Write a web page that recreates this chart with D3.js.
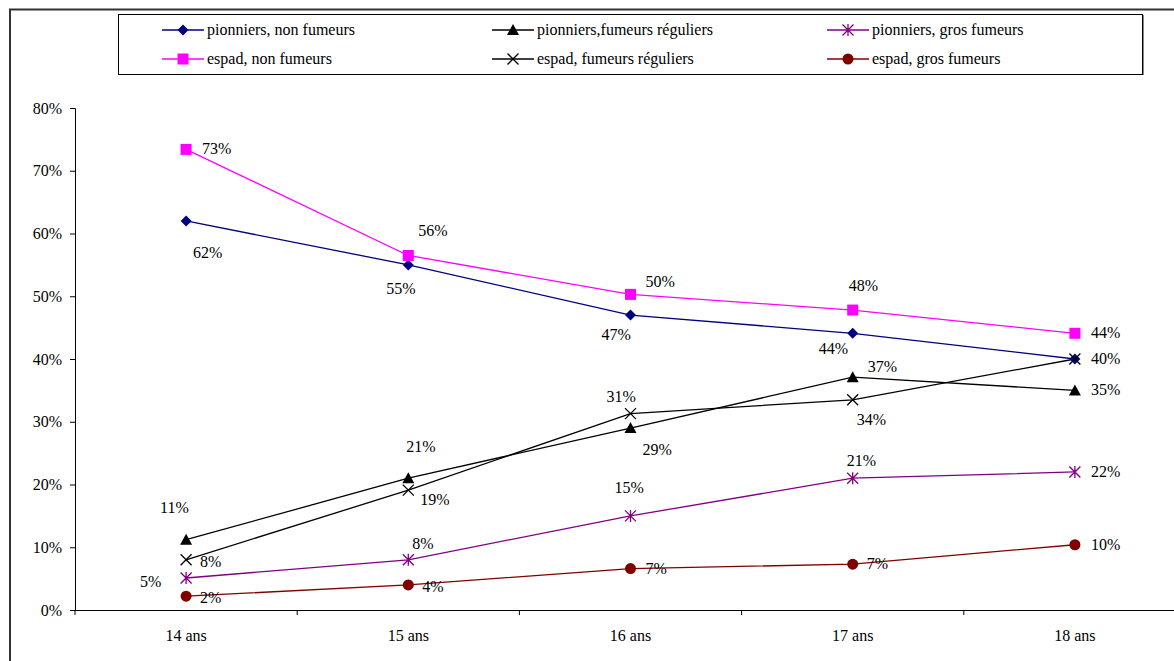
<!DOCTYPE html>
<html>
<head>
<meta charset="utf-8">
<script src="https://cdn.jsdelivr.net/npm/d3@7"></script>
<style>
  html, body { margin: 0; padding: 0; background: #fff; }
  svg { display: block; }
</style>
</head>
<body>
<svg id="chart" width="1174" height="661"></svg>
<script>
// ---- data ----
const categories = ["14 ans", "15 ans", "16 ans", "17 ans", "18 ans"];
const yTicks = [0, 0.1, 0.2, 0.3, 0.4, 0.5, 0.6, 0.7, 0.8];

const seriesNames = [
  "pionniers, non fumeurs",
  "pionniers,fumeurs réguliers",
  "pionniers, gros fumeurs",
  "espad, non fumeurs",
  "espad, fumeurs réguliers",
  "espad, gros fumeurs"
];
const pionniersNonFumeurs = [0.62, 0.55, 0.47, 0.441, 0.40];
const pionniersFumeursReguliers = [0.112, 0.21, 0.29, 0.371, 0.35];
const pionniersGrosFumeurs = [0.051, 0.08, 0.15, 0.21, 0.22];
const espadNonFumeurs = [0.734, 0.565, 0.503, 0.478, 0.441];
const espadFumeursReguliers = [0.08, 0.191, 0.313, 0.335, 0.40];
const espadGrosFumeurs = [0.022, 0.04, 0.066, 0.073, 0.104];

const seriesValues = [
  pionniersNonFumeurs, pionniersFumeursReguliers, pionniersGrosFumeurs,
  espadNonFumeurs, espadFumeursReguliers, espadGrosFumeurs
];

// ---- styles ----
const FONT = "Liberation Serif";
const FS = 16;
const colors = ["#000080", "#000000", "#800080", "#FF00FF", "#000000", "#800000"];
const markers = ["diamond", "triangle", "asterisk", "square", "cross", "circle"];
// label offsets (dx, dy) relative to each point, in pixels; null = label hidden (overlap)
const labelOffsets = [
  [[7, 37], [-22, 29], [-29, 25], [-34, 21], [16, 5]],
  [[-26, -27], [-2, -26], [12, 27], [15, -5], [16, 5]],
  [[-46, 9], [4, -11], [-16, -23], [-6, -12], [16, 5]],
  [[16, 5], [10, -19], [15, -7], [-4, -19], [16, 5]],
  [[14, 7], [12, 15], [-24, -12], [4, 25], null],
  [[14, 7], [14, 7], [15, 5], [14, 5], [16, 5]]
];

function setFont(sel) {
  return sel.attr("font-family", FONT).attr("font-size", FS)
    .style("font-family", FONT).style("font-size", FS + "px").attr("fill", "#000");
}

const svg = d3.select("#chart");

// outer frame
svg.append("line").attr("x1", 9).attr("x2", 1174).attr("y1", 9.5).attr("y2", 9.5)
  .attr("stroke", "#333").attr("stroke-width", 2);
svg.append("line").attr("x1", 10).attr("x2", 10).attr("y1", 9).attr("y2", 661)
  .attr("stroke", "#333").attr("stroke-width", 2);

const x0 = 75, x1 = 1186, yTop = 108, yBot = 610;
const x = d3.scaleBand().domain(categories).range([x0, x1]);
const y = d3.scaleLinear().domain([0, 0.8]).range([yBot, yTop]);

// y axis
const yAxis = d3.axisLeft(y).tickValues(yTicks).tickFormat(d3.format(".0%")).tickSize(5).tickPadding(8);
const gy = svg.append("g").attr("transform", `translate(${x0},0)`).call(yAxis);
gy.select(".domain").attr("stroke", "#000");
gy.selectAll(".tick line").attr("stroke", "#000");
setFont(gy.selectAll(".tick text"));

// x axis
const xAxis = d3.axisBottom(x).tickSize(0).tickPadding(20);
const gx = svg.append("g").attr("transform", `translate(0,${yBot})`).call(xAxis);
gx.select(".domain").attr("d", `M${x0},0.5H1174`).attr("stroke", "#000");
setFont(gx.selectAll(".tick text"));
// category boundary ticks
const boundaries = categories.map(c => x(c));
gx.selectAll(".bt").data(boundaries).enter().append("line")
  .attr("x1", d => d).attr("x2", d => d).attr("y1", 0).attr("y2", 5).attr("stroke", "#000");

function drawMarker(g, type, color, cx, cy) {
  const r = 5.5;
  if (type === "diamond") {
    g.append("path").attr("d", `M${cx},${cy - r}L${cx + r},${cy}L${cx},${cy + r}L${cx - r},${cy}Z`).attr("fill", color);
  } else if (type === "square") {
    g.append("rect").attr("x", cx - r).attr("y", cy - r).attr("width", 2 * r).attr("height", 2 * r).attr("fill", color);
  } else if (type === "triangle") {
    g.append("path").attr("d", `M${cx},${cy - 6}L${cx + 6},${cy + 5}L${cx - 6},${cy + 5}Z`).attr("fill", color);
  } else if (type === "circle") {
    g.append("circle").attr("cx", cx).attr("cy", cy).attr("r", r).attr("fill", color);
  } else if (type === "cross") {
    g.append("path").attr("d", `M${cx - r},${cy - r}L${cx + r},${cy + r}M${cx - r},${cy + r}L${cx + r},${cy - r}`)
      .attr("stroke", color).attr("stroke-width", 1.3).attr("fill", "none");
  } else if (type === "asterisk") {
    g.append("path").attr("d", `M${cx - r},${cy - r}L${cx + r},${cy + r}M${cx - r},${cy + r}L${cx + r},${cy - r}M${cx},${cy - r - 0.5}L${cx},${cy + r + 0.5}`)
      .attr("stroke", color).attr("stroke-width", 1.3).attr("fill", "none");
  }
}

const cx = c => x(c) + x.bandwidth() / 2;

// lines and markers
const order = [0, 3, 1, 4, 2, 5];
order.forEach(i => {
  const line = d3.line().x((d, k) => cx(categories[k])).y(d => y(d));
  svg.append("path").datum(seriesValues[i]).attr("d", line).attr("fill", "none")
    .attr("stroke", colors[i]).attr("stroke-width", 1.3);
});
order.forEach(i => {
  const g = svg.append("g");
  seriesValues[i].forEach((v, k) => drawMarker(g, markers[i], colors[i], cx(categories[k]), y(v)));
});
// labels
order.forEach(i => {
  const pts = seriesValues[i].map((v, k) => ({ v, k, off: labelOffsets[i][k] })).filter(p => p.off);
  const t = svg.append("g").selectAll("text").data(pts).enter().append("text")
    .attr("x", p => cx(categories[p.k]) + p.off[0])
    .attr("y", p => y(p.v) + p.off[1])
    .text(p => Math.round(p.v * 100) + "%");
  setFont(t);
});

// legend
const lg = svg.append("g");
lg.append("rect").attr("x", 118.5).attr("y", 14.5).attr("width", 1024).attr("height", 60)
  .attr("fill", "#fff").attr("stroke", "#000").attr("stroke-width", 1);
lg.append("line").attr("x1", 1143.5).attr("x2", 1143.5).attr("y1", 15).attr("y2", 75).attr("stroke", "#888").attr("stroke-width", 1);
const legendCols = [162, 492, 827];
const legendRows = [30, 59];
seriesNames.forEach((name, i) => {
  const col = i % 3, row = Math.floor(i / 3);
  const lx = legendCols[col], ly = legendRows[row];
  lg.append("line").attr("x1", lx).attr("x2", lx + 42).attr("y1", ly).attr("y2", ly)
    .attr("stroke", colors[i]).attr("stroke-width", 1.3);
  drawMarker(lg, markers[i], colors[i], lx + 21, ly);
  setFont(lg.append("text").attr("x", lx + 45).attr("y", ly + 5).text(name));
});
</script>
</body>
</html>
